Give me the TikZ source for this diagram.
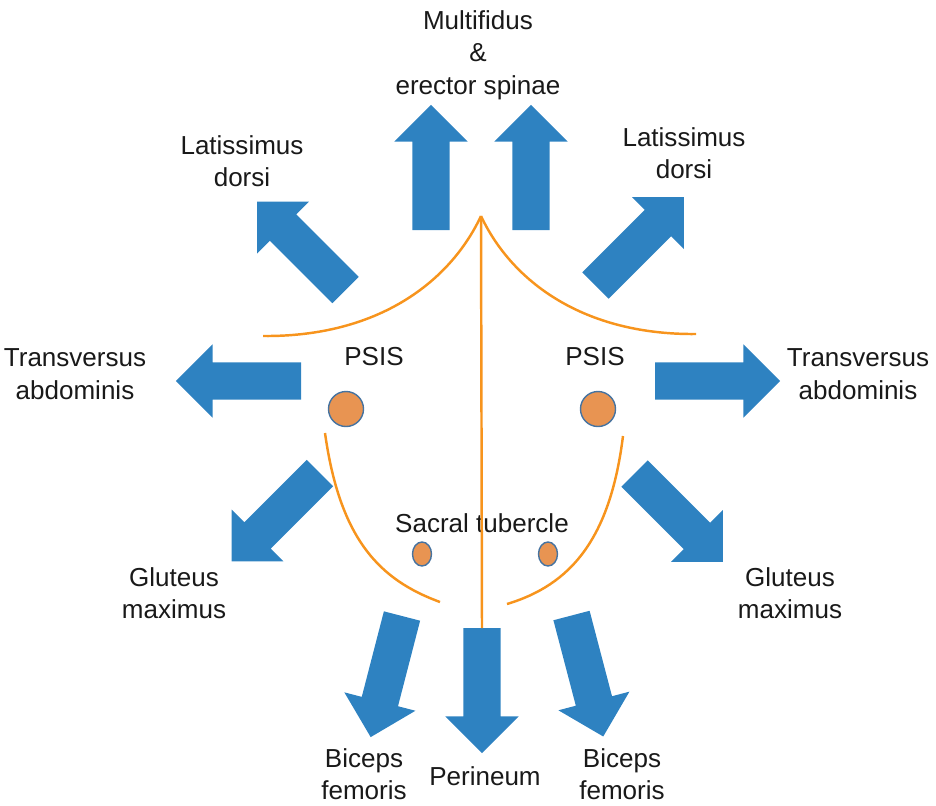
\documentclass[tikz,border=0pt]{standalone}
\usepackage{fontspec}
\setmainfont{Liberation Sans}
\usetikzlibrary{shapes.arrows, shapes.geometric}
\definecolor{MuscleBlue}{RGB}{46,130,193}
\definecolor{BoneOrange}{RGB}{232,148,82}
\definecolor{LineOrange}{RGB}{247,148,29}
\definecolor{RimBlue}{RGB}{70,115,160}

\begin{document}
\begin{tikzpicture}[x=0.01cm, y=-0.01cm,
    muscle/.style={single arrow, fill=MuscleBlue, anchor=tail, minimum height=1.25cm, minimum width=0.72cm,
        single arrow head extend=0.18cm, inner xsep=0pt, inner ysep=0.18cm, outer sep=0pt},
    mtext/.style={font=\fontsize{7.4pt}{9.2pt}\selectfont, align=center, text=black!90},
    spine/.style={draw=LineOrange, line width=0.7pt}]
    \useasboundingbox (0,0) rectangle (936,805);

    % Multifidus & erector spinae
    \node[mtext] (mult) at (478,55) {Multifidus\\\&\\erector spinae};
    \node[muscle, rotate=90] (erL) at (431,230) {};
    \node[muscle, rotate=90] (erR) at (531,230) {};

    % Latissimus dorsi
    \node[mtext] (latLtext) at (242,161) {Latissimus\\dorsi};
    \node[mtext] (latRtext) at (684,153) {Latissimus\\dorsi};
    \node[muscle, rotate=135] (latL) at (345.5,290) {};
    \node[muscle, rotate=45] (latR) at (595.5,285.5) {};

    % Transversus abdominis
    \node[mtext] (trLtext) at (75,374) {Transversus\\abdominis};
    \node[mtext] (trRtext) at (858,374) {Transversus\\abdominis};
    \node[muscle, rotate=180] (trL) at (301,381) {};
    \node[muscle, rotate=0] (trR) at (655,381) {};

    % PSIS
    \node[mtext] (psisLtext) at (374,357) {PSIS};
    \node[mtext] (psisRtext) at (595,357) {PSIS};
    \node[circle, draw=RimBlue, fill=BoneOrange, minimum size=0.35cm, inner sep=0pt] (psisL) at (346,409) {};
    \node[circle, draw=RimBlue, fill=BoneOrange, minimum size=0.35cm, inner sep=0pt] (psisR) at (598,409) {};

    % Gluteus maximus
    \node[mtext] (glLtext) at (174,593) {Gluteus\\maximus};
    \node[mtext] (glRtext) at (790,593) {Gluteus\\maximus};
    \node[muscle, rotate=225] (glL) at (320,473) {};
    \node[muscle, rotate=-45] (glR) at (634.5,473.5) {};

    % Sacral tubercle
    \node[mtext] (sacText) at (482,523) {Sacral tubercle};
    \node[ellipse, draw=RimBlue, fill=BoneOrange, minimum width=0.19cm, minimum height=0.24cm, inner sep=0pt] (sacL) at (422,554) {};
    \node[ellipse, draw=RimBlue, fill=BoneOrange, minimum width=0.19cm, minimum height=0.24cm, inner sep=0pt] (sacR) at (548,554) {};

    % Biceps femoris & perineum
    \node[muscle, rotate=255.5] (biL) at (402,616) {};
    \node[muscle, rotate=270] (per) at (482,628) {};
    \node[muscle, rotate=284.7] (biR) at (571.5,615.5) {};
    \node[mtext] (biLtext) at (364,774) {Biceps\\femoris};
    \node[mtext] (perText) at (485,776) {Perineum};
    \node[mtext] (biRtext) at (622,774) {Biceps\\femoris};

    % outline
    \coordinate (apex) at (481,216);
    \draw[spine] (263,336) .. controls (378,337) and (450,282) .. (apex);
    \draw[spine] (apex) .. controls (512,282) and (584,335) .. (696,334);
    \draw[spine] (apex) -- (per.tail);
    \draw[spine] (325,433) .. controls (340,540) and (380,580) .. (440,602);
    \draw[spine] (623,436) .. controls (610,540) and (570,585) .. (507,604);
\end{tikzpicture}
\end{document}
